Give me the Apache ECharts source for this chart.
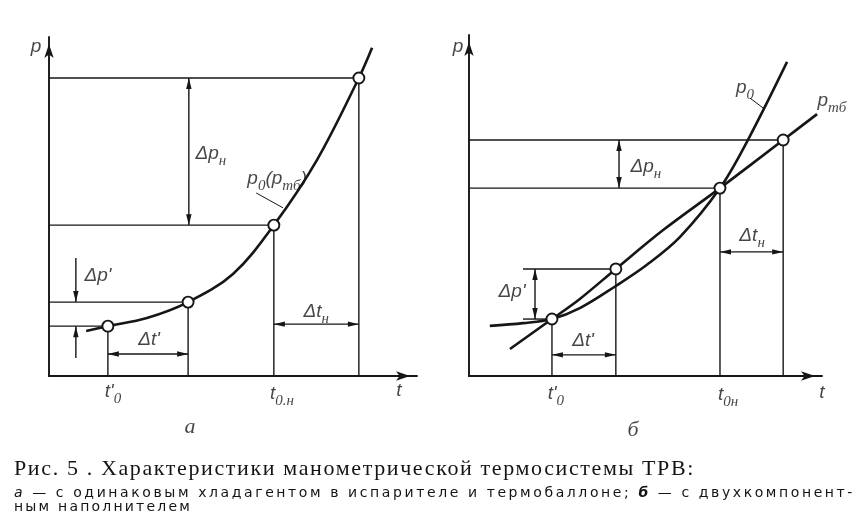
<!DOCTYPE html>
<html><head><meta charset="utf-8">
<script src="https://cdn.jsdelivr.net/npm/echarts@6/dist/echarts.min.js"></script>
<style>
html,body{margin:0;padding:0;background:#fff;}
#chart{position:absolute;left:0;top:0;width:863px;height:522px;}
.cap{position:absolute;left:14px;white-space:nowrap;color:#141414;z-index:5;}
#c1{top:457px;font-family:'Liberation Serif';font-size:22px;line-height:22px;}
#c2{top:485px;font-family:'DejaVu Sans';font-size:14px;line-height:14px;}
#c3{top:499px;font-family:'DejaVu Sans';font-size:14px;line-height:14px;}
</style></head>
<body>
<div id="chart"></div>
<div class="cap" id="c1">Рис. 5 . Характеристики манометрической термосистемы ТРВ:</div>
<div class="cap" id="c2"><i>а</i> — с одинаковым хладагентом в испарителе и термобаллоне; <b><i>б</i></b> — с двухкомпонент-</div>
<div class="cap" id="c3">ным наполнителем</div>
<script>
// ---------- panel а (same refrigerant) ----------
const curveA = [[10.1,13.3],[16.0,14.7],[26.6,17.1],[37.8,21.8],[50.0,30.1],[61.1,44.5],[72.8,63.7],[84.2,87.9],[87.8,96.8]];
const markersA = [[16.0,14.7],[37.8,21.8],[61.1,44.5],[84.2,87.9]];
const guidesA = [[0,87.9,84.2,87.9],[0,44.5,61.1,44.5],[0,21.8,37.8,21.8],[0,14.7,16.0,14.7],
                 [16.0,0,16.0,14.7],[37.8,0,37.8,21.8],[61.1,0,61.1,44.5],[84.2,0,84.2,87.9]];
const leadersA = [[56.3,54.0,63.6,49.6]];
const doubleArrowsA = [[38.0,87.9,38.0,44.5],[16.0,6.5,37.8,6.5],[61.1,15.3,84.2,15.3]];
const singleArrowsA = [[7.3,34.8,7.3,21.8],[7.3,5.3,7.3,14.7]];
const labelsA = [[44.0,65.2,'Δp_{н}'],[62.0,57.8,'p_{0}(p_{тб})'],[13.3,29.2,"Δp'"],[27.2,10.3,"Δt'"],
                 [72.6,18.6,'Δt_{н}'],[17.4,-5.0,"t'_{0}"],[63.3,-5.6,'t_{0.н}'],[95.1,-4.7,'t'],[-3.5,96.8,'p']];
const letterA = [[38.3,-15.0,'а']];

// ---------- panel б (two-component filling) ----------
const curveP0 = [[5.9,14.7],[15.3,15.5],[23.5,16.7],[31.4,19.9],[41.6,26.4],[50.4,32.6],[59.8,40.8],[71.1,55.1],[79.0,69.2],[90.1,92.1]];
const curvePtb = [[11.6,7.9],[23.5,16.7],[31.4,22.6],[41.6,31.4],[55.0,42.8],[71.1,55.1],[89.0,69.2],[98.6,76.8]];
const markersB = [[23.5,16.7],[41.6,31.4],[71.1,55.1],[89.0,69.2]];
const guidesB = [[0,69.2,89.0,69.2],[0,55.1,71.1,55.1],[15.3,31.4,41.6,31.4],[15.3,16.7,22.1,16.7],
                 [23.5,0,23.5,16.7],[41.6,0,41.6,31.4],[71.1,0,71.1,55.1],[89.0,0,89.0,69.2]];
const leadersB = [[79.6,81.5,83.3,78.6]];
const doubleArrowsB = [[42.5,69.2,42.5,55.1],[18.7,31.4,18.7,16.7],[23.5,6.2,41.6,6.2],[71.1,36.4,89.0,36.4]];
const labelsB = [[50.1,61.0,'Δp_{н}'],[12.2,24.3,"Δp'"],[32.3,10.0,"Δt'"],[80.2,40.8,'Δt_{н}'],
                 [78.2,84.2,'p_{0}'],[102.8,80.4,'p_{тб}'],[24.6,-5.6,"t'_{0}"],[73.4,-5.9,'t_{0н}'],
                 [100.0,-5.3,'t'],[-3.1,96.2,'p']];
const letterB = [[46.5,-15.8,'б']];

const INK = '#161616';

function rich(s){
  let out='', last=0, m; const re=/_\{([^}]*)\}/g;
  while((m=re.exec(s))){ if(m.index>last) out+='{m|'+s.slice(last,m.index)+'}'; out+='{s|'+m[1]+'}'; last=re.lastIndex; }
  if(last<s.length) out+='{m|'+s.slice(last)+'}';
  return out;
}
const richStyles = {
  m:{fontFamily:'Liberation Sans',fontStyle:'italic',fontSize:19,lineHeight:21,verticalAlign:'top',color:INK},
  s:{fontFamily:'Liberation Serif',fontStyle:'italic',fontSize:15,lineHeight:14,padding:[9,0,0,0],verticalAlign:'top',color:INK},
  L:{fontFamily:'Liberation Serif',fontStyle:'italic',fontSize:22,color:INK}
};

function segRender(width, heads){
  return function(params, api){
    const a = api.coord([api.value(0), api.value(1)]);
    const b = api.coord([api.value(2), api.value(3)]);
    const dx=b[0]-a[0], dy=b[1]-a[1], L=Math.hypot(dx,dy)||1, ux=dx/L, uy=dy/L;
    const len=11, hw=2.7;
    const head=(tip,vx,vy)=>{ const bx=tip[0]-vx*len, by=tip[1]-vy*len;
      return {type:'polygon',shape:{points:[[tip[0],tip[1]],[bx-vy*hw,by+vx*hw],[bx+vy*hw,by-vx*hw]]},style:{fill:INK}}; };
    const ch=[{type:'line',shape:{x1:a[0],y1:a[1],x2:b[0],y2:b[1]},style:{stroke:INK,lineWidth:width}}];
    if(heads>=1) ch.push(head(b,ux,uy));
    if(heads>=2) ch.push(head(a,-ux,-uy));
    return {type:'group',children:ch};
  };
}
function segSeries(data, idx, width, heads){
  return {type:'custom',xAxisIndex:idx,yAxisIndex:idx,data:data,encode:{x:[0,2],y:[1,3]},
          renderItem:segRender(width,heads),z:3,silent:true};
}
function curveSeries(data, idx){
  return {type:'line',xAxisIndex:idx,yAxisIndex:idx,data:data,smooth:0.35,symbol:'none',
          lineStyle:{color:INK,width:2.6},z:4,silent:true};
}
function markerSeries(data, idx){
  return {type:'scatter',xAxisIndex:idx,yAxisIndex:idx,data:data,symbol:'circle',symbolSize:11,
          itemStyle:{color:'#fff',borderColor:INK,borderWidth:1.9,opacity:1},z:6,silent:true};
}
function textSeries(list, idx, letter){
  return {type:'scatter',xAxisIndex:idx,yAxisIndex:idx,clip:false,symbol:'circle',symbolSize:0,
          itemStyle:{color:'rgba(0,0,0,0)'},z:8,silent:true,
          data:list.map(l=>({value:[l[0],l[1]],name:l[2]})),
          label:{show:true,position:'inside',align:'center',verticalAlign:'middle',
                 formatter:p=> letter ? '{L|'+p.name+'}' : rich(p.name), rich:richStyles}};
}
function axis(i){
  return {type:'value',gridIndex:i,min:0,max:100,
    axisLine:{show:true,onZero:false,symbol:['none','arrow'],symbolSize:[7,14],symbolOffset:[0,-7],
              lineStyle:{color:INK,width:1.9}},
    axisTick:{show:false},axisLabel:{show:false},splitLine:{show:false}};
}

const chart = echarts.init(document.getElementById('chart'), null, {renderer:'canvas', width:863, height:522});
chart.setOption({
  animation:false,
  backgroundColor:'#ffffff',
  grid:[{left:49,top:37,width:368,height:339},{left:469,top:35,width:353,height:341}],
  xAxis:[axis(0),axis(1)],
  yAxis:[axis(0),axis(1)],
  series:[
    segSeries(guidesA,0,1.4,0), segSeries(leadersA,0,1.0,0),
    segSeries(doubleArrowsA,0,1.4,2), segSeries(singleArrowsA,0,1.4,1),
    curveSeries(curveA,0), markerSeries(markersA,0),
    textSeries(labelsA,0,false), textSeries(letterA,0,true),
    segSeries(guidesB,1,1.4,0), segSeries(leadersB,1,1.0,0),
    segSeries(doubleArrowsB,1,1.4,2),
    curveSeries(curveP0,1), curveSeries(curvePtb,1), markerSeries(markersB,1),
    textSeries(labelsB,1,false), textSeries(letterB,1,true)
  ]
});

function fit(id, right){
  const el=document.getElementById(id);
  el.style.letterSpacing='0px';
  const w=el.getBoundingClientRect().width;
  const n=el.textContent.length;
  el.style.letterSpacing=((right-14-w)/n).toFixed(3)+'px';
}
fit('c1',695); fit('c2',855); fit('c3',192);
</script>
</body></html>
